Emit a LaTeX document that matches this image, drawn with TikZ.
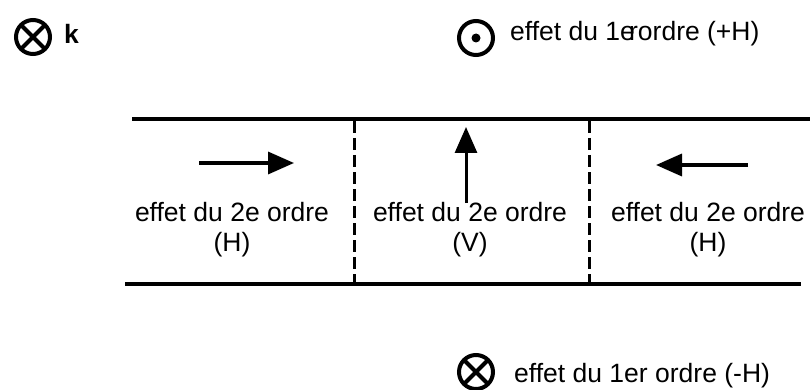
\documentclass[tikz,border=0pt]{standalone}
\usepackage{fontspec}
\setmainfont{Liberation Sans}
\usetikzlibrary{arrows.meta,positioning}

\begin{document}
\begin{tikzpicture}[
  x=1pt, y=-1pt,
  lbl/.style={font=\fontsize{26.5}{29.5}\selectfont, inner sep=0pt},
  wall/.style={line width=4pt},
  divider/.style={line width=3pt, dash pattern=on 12pt off 5pt},
  vec/.style={-{Triangle[length=26pt,width=22pt]}, line width=3.5pt},
  ring/.style={circle, draw, line width=4pt, minimum size=34pt, inner sep=0pt, outer sep=0pt}
]
  \useasboundingbox (0,0) rectangle (810,390);

  \node[ring] (kdir) at (33,37) {};
  \draw[line width=4pt] (kdir.45) -- (kdir.225) (kdir.135) -- (kdir.315);
  \node[lbl, font=\fontsize{26.5}{29.5}\selectfont\bfseries, anchor=base west] (klbl) at (64,44) {k};

  \node[ring] (plus) at (476,38) {};
  \fill (plus.center) circle (4.5pt);
  \node[lbl, anchor=base west] (plustxt) at (510,41) {effet du 1e\kern-0.22em rordre (+H)};

  \node[ring] (minus) at (476,372) {};
  \draw[line width=4pt] (minus.45) -- (minus.225) (minus.135) -- (minus.315);
  \node[lbl, anchor=base west] (minustxt) at (514,382) {effet du 1er ordre (-H)};

  \coordinate (topl) at (132,119);
  \coordinate (topr) at (810,119);
  \coordinate (botl) at (125,284);
  \coordinate (botr) at (801,284);
  \draw[wall] (topl) -- (topr);
  \draw[wall] (botl) -- (botr);

  \coordinate (diva) at (354,121);
  \coordinate (divb) at (354,284);
  \coordinate (divc) at (589,121);
  \coordinate (divd) at (589,284);
  \draw[divider] (diva) -- (divb);
  \draw[divider] (divc) -- (divd);

  \node[lbl, align=center, anchor=base] (lefttxt) at (232,251) {effet du 2e ordre\\(H)};
  \node[lbl, align=center, anchor=base] (midtxt) at (470,251) {effet du 2e ordre\\(V)};
  \node[lbl, align=center, anchor=base] (righttxt) at (708,251) {effet du 2e ordre\\(H)};

  \coordinate (ltail) at (199,163);
  \coordinate (lhead) at (294,163);
  \coordinate (mtail) at (466,203);
  \coordinate (mhead) at (466,127);
  \coordinate (rtail) at (748,165);
  \coordinate (rhead) at (656,165);
  \draw[vec] (ltail) -- (lhead);
  \draw[vec, line width=3pt] (mtail) -- (mhead);
  \draw[vec] (rtail) -- (rhead);
\end{tikzpicture}
\end{document}
